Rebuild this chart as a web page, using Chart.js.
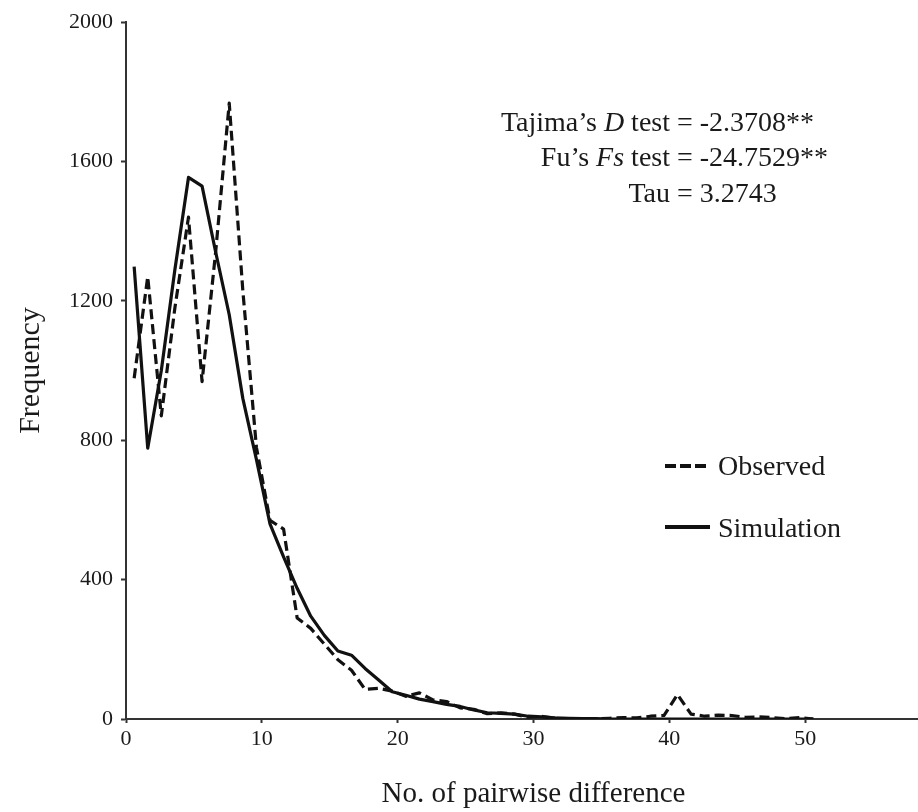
<!DOCTYPE html>
<html>
<head>
<meta charset="utf-8">
<script src="https://cdn.jsdelivr.net/npm/chart.js@4.4.1/dist/chart.umd.min.js"></script>
<style>
html, body { margin: 0; padding: 0; overflow: hidden; background: #fff; width: 918px; height: 812px; }
#wrap { position: absolute; left: 0; top: 0; width: 960px; height: 812px; }
</style>
</head>
<body>
<div id="wrap"><canvas id="c"></canvas></div>
<script>
// Number of pairwise differences (x positions of the plotted points)
const pairwiseDiff = [0.6, 1.6, 2.6, 3.6, 4.6, 5.6, 6.6, 7.6, 8.6, 9.6,
  10.6, 11.6, 12.6, 13.6, 14.6, 15.6, 16.6, 17.6, 18.6, 19.6,
  20.6, 21.6, 22.6, 23.6, 24.6, 25.6, 26.6, 27.6, 28.6, 29.6,
  30.6, 31.6, 32.6, 33.6, 34.6, 35.6, 36.6, 37.6, 38.6, 39.6,
  40.6, 41.6, 42.6, 43.6, 44.6, 45.6, 46.6, 47.6, 48.6, 49.6, 50.6];

const observed = [978, 1269, 870, 1180, 1440, 968, 1340, 1767, 1230, 780,
  570, 545, 290, 260, 215, 170, 140, 85, 88, 80,
  65, 75, 55, 50, 32, 28, 15, 18, 14, 5,
  8, 2, 0, 0, 0, 2, 4, 3, 8, 10,
  70, 14, 8, 11, 10, 5, 6, 4, 1, 4, 0];

const simulation = [1298, 777, 1000, 1290, 1554, 1529, 1340, 1160, 920, 745,
  560, 465, 375, 295, 240, 195, 183, 145, 112, 78,
  68, 57, 50, 42, 36, 26, 18, 16, 14, 8,
  6, 3, 2, 1, 1, 0, 0, 0, 0, 0,
  0, 0, 0, 0, 0, 0, 0, 0, 0, 0, 0];

const xTicks = [0, 10, 20, 30, 40, 50, 60];
const yTicks = [0, 400, 800, 1200, 1600, 2000];

const seriesNames = ['Observed', 'Simulation'];
const statLines = [
  { left: [['Tajima\u2019s ', false], ['D', true], [' test ', false]], right: '= -2.3708**' },
  { left: [['Fu\u2019s ', false], ['Fs', true], [' test ', false]], right: '= -24.7529**' },
  { left: [['Tau ', false]], right: '= 3.2743' }
];

const FONT = '"Liberation Serif", "Times New Roman", serif';
const INK = '#1a1a1a';

const toPoints = (ys) => ys.map((y, i) => ({ x: pairwiseDiff[i], y }));

const overlay = {
  id: 'overlay',
  afterDraw(chart) {
    const ctx = chart.ctx;
    ctx.save();
    // statistics text, aligned on "="
    const eqX = 677;
    const baselines = [131, 166, 202];
    ctx.fillStyle = INK;
    ctx.textBaseline = 'alphabetic';
    statLines.forEach((ln, k) => {
      let w = 0;
      ln.left.forEach(([t, it]) => {
        ctx.font = (it ? 'italic ' : '') + '28px ' + FONT;
        w += ctx.measureText(t).width;
      });
      let x = eqX - w;
      ctx.textAlign = 'left';
      ln.left.forEach(([t, it]) => {
        ctx.font = (it ? 'italic ' : '') + '28px ' + FONT;
        ctx.fillText(t, x, baselines[k]);
        x += ctx.measureText(t).width;
      });
      ctx.font = '28px ' + FONT;
      ctx.fillText(ln.right, eqX, baselines[k]);
    });

    // legend
    ctx.strokeStyle = '#111';
    ctx.lineWidth = 4;
    ctx.setLineDash([11, 4]);
    ctx.beginPath();
    ctx.moveTo(665, 466);
    ctx.lineTo(710, 466);
    ctx.stroke();
    ctx.setLineDash([]);
    ctx.beginPath();
    ctx.moveTo(665, 527);
    ctx.lineTo(710, 527);
    ctx.stroke();
    ctx.font = '28px ' + FONT;
    ctx.textAlign = 'left';
    ctx.fillText(seriesNames[0], 718, 475);
    ctx.fillText(seriesNames[1], 718, 537);
    ctx.restore();
  }
};

new Chart(document.getElementById('c'), {
  type: 'line',
  data: {
    datasets: [
      {
        label: seriesNames[0],
        data: toPoints(observed),
        borderColor: '#111',
        borderWidth: 3.2,
        borderDash: [10, 5],
        borderJoinStyle: 'round',
        pointRadius: 0,
        tension: 0,
        fill: false
      },
      {
        label: seriesNames[1],
        data: toPoints(simulation),
        borderColor: '#111',
        borderWidth: 3.2,
        borderJoinStyle: 'round',
        pointRadius: 0,
        tension: 0,
        fill: false
      }
    ]
  },
  options: {
    responsive: true,
    maintainAspectRatio: false,
    animation: false,
    layout: { padding: { top: 22, right: 19, left: 0, bottom: 0 } },
    plugins: { legend: { display: false }, tooltip: { enabled: false } },
    scales: {
      x: {
        type: 'linear',
        min: xTicks[0],
        max: xTicks[xTicks.length - 1],
        afterBuildTicks: (s) => { s.ticks = xTicks.map(v => ({ value: v })); },
        afterFit: (s) => { s.height = 93; },
        ticks: { color: INK, font: { family: FONT, size: 22 }, padding: 3, maxRotation: 0, callback: (v) => String(v) },
        grid: { display: true, drawOnChartArea: false, drawTicks: true, tickLength: 4, tickColor: '#333', tickWidth: 2 },
        border: { display: true, color: '#333', width: 2 },
        title: { display: true, text: 'No. of pairwise difference', color: INK, font: { family: FONT, size: 29, lineHeight: 1.2 }, padding: 0 }
      },
      y: {
        min: yTicks[0],
        max: yTicks[yTicks.length - 1],
        afterBuildTicks: (s) => { s.ticks = yTicks.map(v => ({ value: v })); },
        afterFit: (s) => { s.width = 126; },
        ticks: { color: INK, font: { family: FONT, size: 22 }, padding: 8, callback: (v) => String(v) },
        grid: { display: true, drawOnChartArea: false, drawTicks: true, tickLength: 5, tickColor: '#333', tickWidth: 2 },
        border: { display: true, color: '#333', width: 2 },
        title: { display: true, text: 'Frequency', color: INK, font: { family: FONT, size: 30, lineHeight: 1.2 }, padding: { top: 13, bottom: 0 } }
      }
    }
  },
  plugins: [overlay]
});
</script>
</body>
</html>
